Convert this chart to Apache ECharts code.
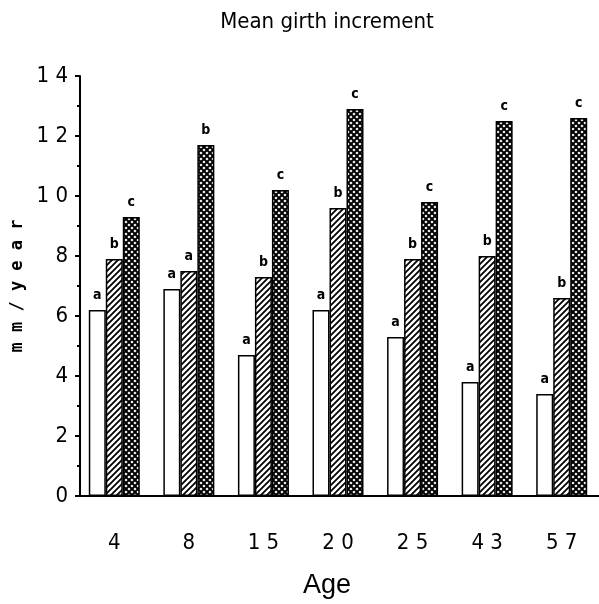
<!DOCTYPE html>
<html>
<head>
<meta charset="utf-8">
<script src="https://cdn.jsdelivr.net/npm/echarts@6/dist/echarts.min.js"></script>
<style>
  html, body { margin: 0; padding: 0; background: #fff; }
  #chart { width: 599px; height: 604px; }
</style>
</head>
<body>
<div id="chart"></div>
<script>
// data
var ages = ['4', '8', '15', '20', '25', '43', '57'];
var openBars = [6.2, 6.9, 4.7, 6.2, 5.3, 3.8, 3.4];
var hatchBars = [7.9, 7.5, 7.3, 9.6, 7.9, 8.0, 6.6];
var crossBars = [9.3, 11.7, 10.2, 12.9, 9.8, 12.5, 12.6];
var openLetters = ['a', 'a', 'a', 'a', 'a', 'a', 'a'];
var hatchLetters = ['b', 'a', 'b', 'b', 'b', 'b', 'b'];
var crossLetters = ['c', 'b', 'c', 'c', 'c', 'c', 'c'];

var numFont = '"Liberation Sans Narrow", "DejaVu Sans Condensed", "Liberation Sans", sans-serif';

function hatchPattern() {
    var c = document.createElement('canvas');
    c.width = 6; c.height = 6;
    var ctx = c.getContext('2d');
    ctx.fillStyle = '#fff';
    ctx.fillRect(0, 0, 6, 6);
    ctx.strokeStyle = '#000';
    ctx.lineWidth = 1.8;
    ctx.beginPath();
    ctx.moveTo(-1, 7); ctx.lineTo(7, -1);
    ctx.moveTo(-1, 1); ctx.lineTo(1, -1);
    ctx.moveTo(5, 7); ctx.lineTo(7, 5);
    ctx.stroke();
    return c;
}

function crossPattern() {
    var c = document.createElement('canvas');
    c.width = 6; c.height = 6;
    var ctx = c.getContext('2d');
    ctx.fillStyle = '#000';
    ctx.fillRect(0, 0, 6, 6);
    ctx.fillStyle = '#fff';
    var holes = [[3, 3], [0, 0], [6, 0], [0, 6], [6, 6]];
    holes.forEach(function (h) {
        ctx.beginPath();
        ctx.moveTo(h[0], h[1] - 1.6);
        ctx.lineTo(h[0] + 1.6, h[1]);
        ctx.lineTo(h[0], h[1] + 1.6);
        ctx.lineTo(h[0] - 1.6, h[1]);
        ctx.closePath();
        ctx.fill();
    });
    return c;
}

function spaced(v) {
    return String(v).split('').join(' ');
}

function barSeries(name, values, letters, fill) {
    return {
        name: name,
        type: 'bar',
        data: values,
        barWidth: 17,
        barGap: '0%',
        itemStyle: {
            color: fill,
            borderColor: '#000',
            borderWidth: 1.5
        },
        label: {
            show: true,
            position: 'top',
            distance: 8,
            formatter: function (p) { return letters[p.dataIndex]; },
            fontFamily: numFont,
            fontWeight: 'bold',
            fontSize: 14,
            color: '#000'
        }
    };
}

var chart = echarts.init(document.getElementById('chart'));

var option = {
    animation: false,
    backgroundColor: '#fff',
    grid: { left: 77, right: -9, top: 76, bottom: 108, containLabel: false },
    graphic: [
        {
            type: 'text', x: 327, y: 11,
            style: {
                text: 'Mean girth increment', textAlign: 'center',
                font: '22px "DejaVu Sans Condensed", "DejaVu Sans", sans-serif', fill: '#000'
            }
        },
        {
            type: 'text', x: 327, y: 572,
            style: {
                text: 'Age', textAlign: 'center',
                font: '27px "Liberation Sans", sans-serif', fill: '#000'
            }
        }
    ],
    xAxis: {
        type: 'category',
        data: ages,
        axisLine: { lineStyle: { color: '#000', width: 2 } },
        axisTick: { show: false },
        axisLabel: {
            margin: 36,
            formatter: spaced,
            fontFamily: numFont,
            fontSize: 22,
            color: '#000'
        }
    },
    yAxis: {
        type: 'value',
        min: 0, max: 14, interval: 2,
        offset: -3,
        name: 'm m / y e a r',
        nameLocation: 'middle',
        nameGap: 53,
        nameTextStyle: {
            fontFamily: '"DejaVu Sans Mono", monospace',
            fontWeight: 'bold',
            fontSize: 17,
            color: '#000'
        },
        splitLine: { show: false },
        axisLine: { show: true, lineStyle: { color: '#000', width: 2 } },
        axisTick: { show: true, length: 5, lineStyle: { color: '#000', width: 2 } },
        minorTick: { show: true, splitNumber: 2, length: 3, lineStyle: { color: '#000', width: 2 } },
        axisLabel: {
            margin: 12,
            formatter: spaced,
            fontFamily: numFont,
            fontSize: 22,
            color: '#000'
        }
    },
    series: [
        barSeries('open', openBars, openLetters, '#fff'),
        barSeries('hatched', hatchBars, hatchLetters, { image: hatchPattern(), repeat: 'repeat' }),
        barSeries('cross', crossBars, crossLetters, { image: crossPattern(), repeat: 'repeat' })
    ]
};

chart.setOption(option);
</script>
</body>
</html>
